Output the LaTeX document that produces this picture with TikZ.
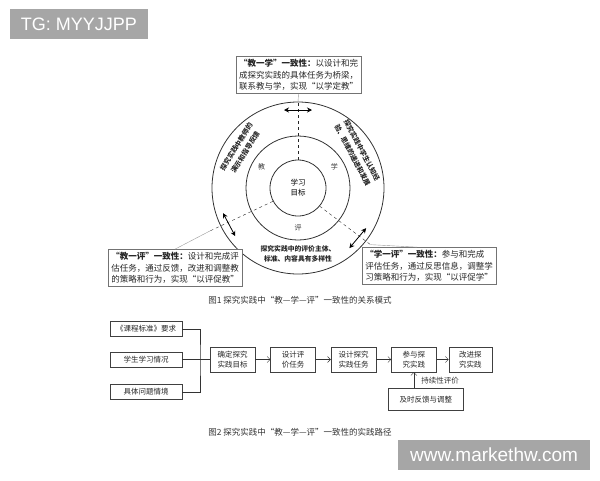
\documentclass[tikz,border=0pt]{standalone}
\usepackage{fontspec}
\setmainfont{Liberation Sans}
\newfontfamily\cjk{Noto Sans CJK SC}
\usetikzlibrary{positioning,arrows.meta}

\tikzset{
	note/.style={draw=black!55, fill=white, text=black!85, align=left, inner sep=3pt,
		font=\cjk\fontsize{8.5}{11.5}\selectfont},
	ring/.style={draw=black!80, thick},
	spoke/.style={dashed, black!85},
	leader/.style={black!40},
	span/.style={{Stealth[length=5pt,width=5pt]}-{Stealth[length=5pt,width=5pt]}, thick},
	sector/.style={font=\cjk\fontsize{7}{8}\selectfont, text=black!80},
	bandtext/.style={align=center, text=black!85, font=\cjk\bfseries\fontsize{6.8}{10.5}\selectfont},
	stepbox/.style={draw=black!75, align=center, text=black!85, minimum width=45pt,
		minimum height=25pt, inner sep=1pt, font=\cjk\fontsize{7.5}{9.5}\selectfont},
	sidebox/.style={stepbox, minimum width=72pt, minimum height=15pt},
	flow/.style={-{Straight Barb[length=3pt,width=6pt]}, black!80},
	caption/.style={text=black!80, font=\cjk\fontsize{8.5}{10}\selectfont},
	stamp/.style={fill=black!35, text=white, inner sep=0pt}
}

\begin{document}
\begin{tikzpicture}[x=1pt,y=-1pt]
	\useasboundingbox (0,0) rectangle (600,480);

	% relation model
	\node [circle, draw=black!80, thick, minimum size=56pt, inner sep=0pt, align=center,
		font=\cjk\fontsize{7.5}{10}\selectfont] (goal) at (298,188) {学习\\目标};
	\draw [ring] (goal.center) circle [radius=52pt];
	\draw [ring] (goal.center) circle [radius=86pt];

	\node [sector] (teach) at ([shift={(150:42pt)}]goal.center) {教};
	\node [sector] (learn) at ([shift={(30:42pt)}]goal.center) {学};
	\node [sector] (assess) at ([shift={(270:40pt)}]goal.center) {评};

	\node [bandtext, rotate=58] (teacherside) at ([shift={(146:69pt)}]goal.center)
		{探究实践中教师的\\演示和指导反馈};
	\node [bandtext, rotate=-62] (studentside) at ([shift={(31:69pt)}]goal.center)
		{探究实践中学生认知经\\验、思维的递进和发展};
	\node [bandtext] (assessside) at ([shift={(270:66pt)}]goal.center)
		{探究实践中的评价主体、\\标准、内容具有多样性};

	\node [note] (topbox) at (298.5,75)
		{{\bfseries “教一学”一致性：}以设计和完\\成探究实践的具体任务为桥梁，\\联系教与学，实现“以学定教”};
	\node [note] (leftbox) at (175,268)
		{{\bfseries “教一评”一致性：}设计和完成评\\估任务，通过反馈，改进和调整教\\的策略和行为，实现“以评促教”};
	\node [note] (rightbox) at (429,266)
		{{\bfseries “学一评”一致性：}参与和完成\\评估任务，通过反思信息，调整学\\习策略和行为，实现“以评促学”};

	\coordinate (topcross) at ([shift={(90:78pt)}]goal.center);
	\coordinate (leftcross) at ([shift={(208:78pt)}]goal.center);
	\coordinate (rightcross) at ([shift={(-40:78pt)}]goal.center);
	\coordinate (topend) at ([shift={(90:86pt)}]goal.center);
	\coordinate (leftend) at ([shift={(206:98pt)}]goal.center);
	\coordinate (rightend) at ([shift={(-38:92pt)}]goal.center);

	\draw [spoke] (goal.90) -- (topend);
	\draw [spoke] (goal.208) -- (leftend);
	\draw [spoke] (goal.-40) -- (rightend);
	\draw [leader] (topend) -- (topbox.south);
	\draw [leader] (leftend) -- (leftbox.north);
	\draw [leader] (rightend) -- ([xshift=-12pt]rightbox.north);
	\draw [span] ([shift={(180:14pt)}]topcross) -- ([shift={(0:14pt)}]topcross);
	\draw [span] ([shift={(118:13pt)}]leftcross) -- ([shift={(298:13pt)}]leftcross);
	\draw [span] ([shift={(50:13pt)}]rightcross) -- ([shift={(230:13pt)}]rightcross);

	\node [caption] (figone) at (300,300) {图1\ 探究实践中“教—学—评”一致性的关系模式};

	% practice path
	\node [sidebox] (learner) at (146,359.5) {学生学习情况};
	\node [sidebox, above=15pt of learner] (standard) {《课程标准》要求};
	\node [sidebox, below=17pt of learner] (context) {具体问题情境};
	\node [stepbox, anchor=west] (aim) at (210,359.5) {确定探究\\实践目标};
	\node [stepbox, right=15pt of aim] (evaltask) {设计评\\价任务};
	\node [stepbox, right=15pt of evaltask] (inqtask) {设计探究\\实践任务};
	\node [stepbox, right=15pt of inqtask] (engage) {参与探\\究实践};
	\node [stepbox, right=12pt of engage, minimum width=43pt] (improve) {改进探\\究实践};
	\node [stepbox, below=16pt of engage, xshift=12pt, minimum width=75pt,
		minimum height=22pt] (feedback) {及时反馈与调整};

	\coordinate (join) at (200,359.5);
	\draw [black!80] (standard.east) -| (join) |- (context.east);
	\draw [black!80] (learner.east) -- (aim.west);
	\draw [flow] (aim) -- (evaltask);
	\draw [flow] (evaltask) -- (inqtask);
	\draw [flow] (inqtask) -- (engage);
	\draw [flow] (engage) -- (improve);
	\draw [flow] (feedback.north -| engage.south) -- (engage.south);
	\node [caption, anchor=west, font=\cjk\fontsize{7.5}{9}\selectfont] (ongoing)
		at ([xshift=4pt, yshift=-8pt]engage.south) {持续性评价};

	\node [caption] (figtwo) at (300,432) {图2\ 探究实践中“教—学—评”一致性的实践路径};

	% stamps
	\node [stamp, minimum width=138pt, minimum height=30pt, font=\fontsize{18}{20}\selectfont]
		(tag) at (79,24) {TG: MYYJJPP};
	\node [stamp, minimum width=192pt, minimum height=30pt, font=\fontsize{19}{21}\selectfont]
		(site) at (494,455) {www.markethw.com};

\end{tikzpicture}
\end{document}
